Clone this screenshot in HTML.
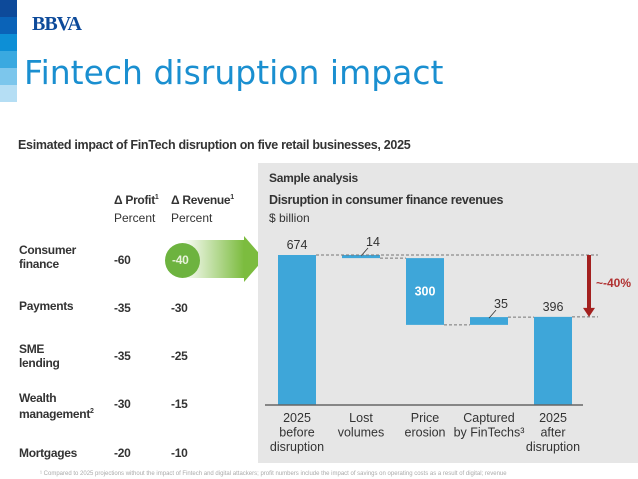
<!DOCTYPE html>
<html><head><meta charset="utf-8"><style>
body{margin:0;width:638px;height:479px;overflow:hidden;background:#fff;font-family:"Liberation Sans",sans-serif;position:relative}
.a{position:absolute;white-space:nowrap}
.b{font-weight:bold;color:#333;font-size:12px;letter-spacing:-0.3px}
.n{color:#333;font-size:12px}
</style></head><body>
<div class="a" style="left:0;top:0;width:17px;height:102px">
<div style="height:17px;background:#0d4a9a"></div><div style="height:17px;background:#0a63b8"></div><div style="height:17px;background:#0d8fd6"></div><div style="height:17px;background:#3aa9e0"></div><div style="height:17px;background:#7cc6ec"></div><div style="height:17px;background:#b5def4"></div></div>
<div class="a" style="left:32px;top:13px;font-size:20px;font-weight:bold;color:#0d4a9a;font-family:'Liberation Serif',serif;letter-spacing:-1px">BBVA</div>
<div class="a" style="left:24px;top:53px;font-size:33px;color:#1a8fd0;font-family:'DejaVu Sans',sans-serif">Fintech disruption impact</div>
<div class="a b" style="left:18px;top:138px;font-size:12.5px">Esimated impact of FinTech disruption on five retail businesses, 2025</div>

<div class="a b" style="left:114px;top:193px">Δ Profit<sup style="font-size:7px">1</sup></div>
<div class="a n" style="left:114px;top:211px">Percent</div>
<div class="a b" style="left:171px;top:193px">Δ Revenue<sup style="font-size:7px">1</sup></div>
<div class="a n" style="left:171px;top:211px">Percent</div>

<div class="a" style="left:182px;top:240px;width:62px;height:38px;background:linear-gradient(to right,rgba(255,255,255,0),#7cbc3f)"></div>
<div class="a" style="left:244px;top:236px;width:0;height:0;border-top:23px solid transparent;border-bottom:23px solid transparent;border-left:20px solid #7cbc3f"></div>
<div class="a" style="left:165px;top:243px;width:35px;height:35px;border-radius:50%;background:#6db33f"></div>
<div class="a b" style="left:172px;top:253px;color:#e8f3dc">-40</div>

<div class="a b" style="left:19px;top:243px;line-height:14px">Consumer<br>finance</div>
<div class="a b" style="left:114px;top:253px">-60</div>
<div class="a b" style="left:19px;top:299px">Payments</div>
<div class="a b" style="left:114px;top:301px">-35</div>
<div class="a b" style="left:171px;top:301px">-30</div>
<div class="a b" style="left:19px;top:342px;line-height:14px">SME<br>lending</div>
<div class="a b" style="left:114px;top:349px">-35</div>
<div class="a b" style="left:171px;top:349px">-25</div>
<div class="a b" style="left:19px;top:391px;line-height:14px">Wealth<br>management<sup style="font-size:7px">2</sup></div>
<div class="a b" style="left:114px;top:397px">-30</div>
<div class="a b" style="left:171px;top:397px">-15</div>
<div class="a b" style="left:19px;top:446px">Mortgages</div>
<div class="a b" style="left:114px;top:446px">-20</div>
<div class="a b" style="left:171px;top:446px">-10</div>

<div class="a" style="left:258px;top:163px;width:380px;height:300px;background:#e6e6e6"></div>
<div class="a b" style="left:269px;top:171px">Sample analysis</div>
<div class="a b" style="left:269px;top:193px;font-size:12.5px">Disruption in consumer finance revenues</div>
<div class="a n" style="left:269px;top:211px">$ billion</div>

<svg class="a" style="left:0;top:0" width="638" height="479" id="chart"></svg>
<div class="a" style="left:40px;top:471px;font-size:6px;color:#aaa">¹ Compared to 2025 projections without the impact of Fintech and digital attackers; profit numbers include the impact of savings on operating costs as a result of digital; revenue</div>
<script>
const categories=["2025\nbefore\ndisruption","Lost\nvolumes","Price\nerosion","Captured\nby FinTechs³","2025\nafter\ndisruption"];
const deltas=[674,-14,-300,35,396];
const kinds=["total","delta","delta","delta","total"];
const valueLabels=["674","14","300","35","396"];
const NS="http://www.w3.org/2000/svg",svg=document.getElementById('chart');
const base=405,k=150/674,x0=278,step=64,bw=38;
const y=v=>base-v*k, xb=i=>x0+i*step;
function mk(t,a){const e=document.createElementNS(NS,t);for(const q in a)e.setAttribute(q,a[q]);svg.appendChild(e);return e;}
let run=0;const tops=[];
deltas.forEach((d,i)=>{
 let lo,hi,end;
 if(kinds[i]==="total"){lo=0;hi=d;end=d;}else{lo=Math.min(run,run+d);hi=Math.max(run,run+d);end=run+d;}
 const r=mk('rect',{x:xb(i),y:y(hi),width:bw,height:Math.max(2,y(lo)-y(hi)),fill:'#3ea6d9'});
 
 
 tops.push(end);run=end;
 const t=mk('text',{'font-size':12.5,fill:'#333','text-anchor':'middle','font-family':'Liberation Sans'});
 
 
 if(i===2){t.setAttribute('x',xb(i)+bw/2);t.setAttribute('y',(y(lo)+y(hi))/2+4);t.setAttribute('fill','#fff');t.setAttribute('font-weight','bold');}
 else if(kinds[i]==="delta"){t.setAttribute('x',xb(i)+bw/2+12);t.setAttribute('y',y(hi)-9);
   mk('line',{x1:xb(i)+bw/2,y1:y(hi)+1,x2:xb(i)+bw/2+7,y2:y(hi)-7,stroke:'#333','stroke-width':0.8});}
 else{t.setAttribute('x',xb(i)+bw/2);t.setAttribute('y',y(hi)-6);}
 t.textContent=valueLabels[i];
 categories[i].split('\n').forEach((s,j)=>{const c=mk('text',{x:xb(i)+bw/2,y:base+17+j*14.5,'font-size':12.5,fill:'#333','text-anchor':'middle','font-family':'Liberation Sans'});
 
 
 c.textContent=s;});
});
deltas.forEach((d,i)=>{ if(i<deltas.length-1){const v=tops[i];
 mk('line',{x1:xb(i)+bw,y1:y(v),x2:xb(i+1),y2:y(v),stroke:'#777','stroke-dasharray':'3,2','stroke-width':1});}});
mk('line',{x1:xb(0)+bw,y1:y(tops[0]),x2:598,y2:y(tops[0]),stroke:'#777','stroke-dasharray':'3,2'});
mk('line',{x1:xb(4)+bw,y1:y(tops[4]),x2:598,y2:y(tops[4]),stroke:'#777','stroke-dasharray':'3,2'});
mk('line',{x1:265,y1:base,x2:583,y2:base,stroke:'#666','stroke-width':1.5});
const ar=mk('path',{d:`M587 ${y(tops[0])} h4 v${y(tops[4])-y(tops[0])-9} h4 l-6 9 l-6 -9 h4 z`,fill:'#a3201f'});


const pl=mk('text',{x:596,y:287,'font-size':12,'font-weight':'bold',fill:'#b03030','font-family':'Liberation Sans'});


pl.textContent='~-40%';
</script>
</body></html>
